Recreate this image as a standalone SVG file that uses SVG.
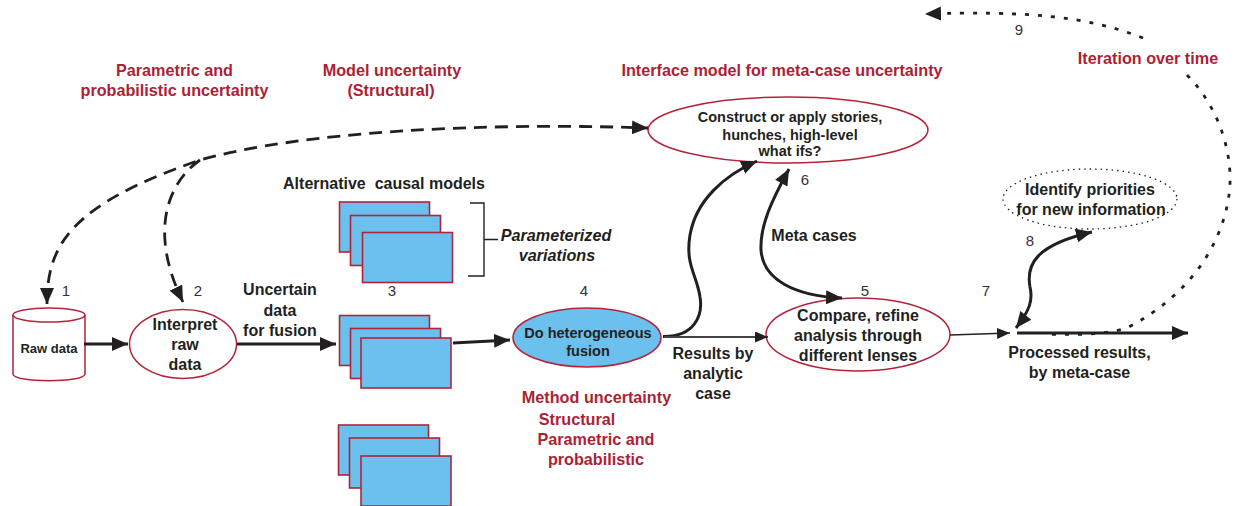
<svg xmlns="http://www.w3.org/2000/svg" width="1235" height="506" viewBox="0 0 1235 506">
<style>
text{font-family:"Liberation Sans",Arial,sans-serif;fill:#231f20;text-anchor:middle}
.b{font-weight:700;font-size:16px}
.s{font-weight:700;font-size:14.500px}
.r{font-weight:700;font-size:16.200px;fill:#ad1f35}
.n{font-size:15px;fill:#333}
.i{font-weight:700;font-style:italic;font-size:16.200px}
.o{fill:#fff;stroke:#b32438;stroke-width:1.500}
.f{fill:#6cc0ee;stroke:#b32438;stroke-width:1.600}
.c{fill:none;stroke:#231f20}
.h{fill:#231f20;stroke:none}
</style>
<defs>
<marker id="a" markerUnits="userSpaceOnUse" markerWidth="18" markerHeight="14" refX="16" refY="7" orient="auto"><path class="h" d="M0 0L16 7L0 14Z"/></marker>
<marker id="as" markerUnits="userSpaceOnUse" markerWidth="14" markerHeight="12" refX="13" refY="5.500" orient="auto"><path class="h" d="M0 0L13 5.500L0 11Z"/></marker>
<marker id="st" markerUnits="userSpaceOnUse" markerWidth="18" markerHeight="14" refX="0" refY="7" orient="auto"><path class="h" d="M16 0L0 7L16 14Z"/></marker>
</defs>

<g id="n1">
<path class="o" d="M13 315V374C13 383 85 383 85 374V315"/>
<ellipse class="o" cx="49" cy="315" rx="36" ry="7"/>
<text x="49" y="353" style="font-weight:700;font-size:13px">Raw data</text>
<text class="n" x="66" y="296">1</text>
</g>

<g id="n2">
<ellipse class="o" cx="183" cy="344" rx="53.500" ry="34.500"/>
<text class="b" x="185" y="330">Interpret</text>
<text class="b" x="185" y="350">raw</text>
<text class="b" x="185" y="370">data</text>
<text class="n" x="198" y="296">2</text>
</g>

<g id="n3a">
<rect class="f" x="339.500" y="202" width="90" height="50"/>
<rect class="f" x="350.500" y="215.500" width="90" height="50"/>
<rect class="f" x="362.500" y="232.500" width="90" height="50"/>
</g>
<g id="n3b">
<rect class="f" x="339.500" y="315.500" width="90" height="50"/>
<rect class="f" x="350.500" y="328.500" width="90" height="50"/>
<rect class="f" x="361" y="338" width="90" height="50"/>
</g>
<g id="n3c">
<rect class="f" x="338.500" y="425" width="90" height="50"/>
<rect class="f" x="349.500" y="438" width="90" height="50"/>
<rect class="f" x="361" y="456" width="90" height="50"/>
</g>

<g id="n4">
<ellipse class="f" cx="587" cy="337.500" rx="74" ry="29.500"/>
<text class="s" x="588" y="338">Do heterogeneous</text>
<text class="s" x="588" y="356">fusion</text>
<text class="n" x="584" y="296">4</text>
</g>

<g id="n6">
<ellipse class="o" cx="788" cy="130" rx="140" ry="33"/>
<text class="s" x="790" y="122">Construct or apply stories,</text>
<text class="s" x="790" y="139.500">hunches, high-level</text>
<text class="s" x="790" y="156">what ifs?</text>
<text class="n" x="805" y="185">6</text>
</g>

<g id="n5">
<ellipse class="o" cx="858" cy="334.500" rx="92" ry="36.500"/>
<text class="b" x="858" y="321">Compare, refine</text>
<text class="b" x="858" y="341">analysis through</text>
<text class="b" x="858" y="361">different lenses</text>
<text class="n" x="865" y="296">5</text>
</g>

<g id="n8">
<ellipse cx="1090" cy="199" rx="87" ry="30" fill="#fff" stroke="#231f20" stroke-width="1.300" stroke-dasharray="1.500 4"/>
<text class="b" x="1090" y="195">Identify priorities</text>
<text class="b" x="1091" y="215">for new information</text>
<text class="n" x="1030" y="246">8</text>
</g>

<g id="connectors">
<path class="c" stroke-width="2.800" stroke-dasharray="13 8" d="M47 304C47 245 70 205 200 160C300 132 480 122 648 128" marker-start="url(#st)" marker-end="url(#a)"/>
<path class="c" stroke-width="2.800" stroke-dasharray="13 8" d="M200 160C165 185 150 235 183 302" marker-end="url(#a)"/>
<path class="c" stroke-width="3" d="M84 344H128" marker-end="url(#a)"/>
<path class="c" stroke-width="3" d="M237 344H336" marker-end="url(#a)"/>
<path class="c" stroke-width="3" d="M453 343L510 340" marker-end="url(#a)"/>
<path class="c" stroke-width="3" d="M663 336.500C695 337 703 315 700 297C697 275 685 265 690 235C696 200 725 175 757 161" marker-end="url(#a)"/>
<path class="c" style="stroke:#444;stroke-width:1.800" d="M664 337H768" marker-end="url(#as)"/>
<path class="c" stroke-width="3" d="M789 169C772 200 760 225 761 250C763 280 795 296 842 298" marker-start="url(#st)" marker-end="url(#a)"/>
<path class="c" stroke-width="1.300" d="M950 335L1010 333" marker-end="url(#as)"/>
<path class="c" stroke-width="3.200" d="M1017 333H1188" marker-end="url(#a)"/>
<path class="c" stroke-width="3" d="M1016 328C1030 310 1033 300 1030 287C1026 265 1035 245 1092 232" marker-end="url(#a)" marker-start="url(#st)"/>
<path class="c" stroke-width="2.800" stroke-dasharray="4 9" d="M1187 75C1222 110 1234 160 1229 195C1222 245 1190 295 1127 328C1105 335 1070 335 1045 334"/>
<path class="c" stroke-width="2.800" stroke-dasharray="4 9" d="M1143 38C1085 15 1020 11 925 14" marker-end="url(#a)"/>
<path class="c" stroke-width="1.400" d="M470 203H484V276H468M484 239.500H498"/>
</g>

<g id="labels">
<text class="r" x="174.500" y="76">Parametric and</text>
<text class="r" x="174.500" y="96">probabilistic uncertainty</text>
<text class="r" x="392" y="76">Model uncertainty</text>
<text class="r" x="391" y="96">(Structural)</text>
<text class="r" x="782" y="76">Interface model for meta-case uncertainty</text>
<text class="r" x="1148" y="64">Iteration over time</text>
<text class="n" x="1019" y="35">9</text>
<text class="b" x="384" y="189" xml:space="preserve">Alternative  causal models</text>
<text class="i" x="556" y="241">Parameterized</text>
<text class="i" x="557" y="261">variations</text>
<text class="n" x="392" y="296">3</text>
<text class="b" x="280" y="295">Uncertain</text>
<text class="b" x="280" y="316">data</text>
<text class="b" x="280" y="336">for fusion</text>
<text class="b" x="814" y="241">Meta cases</text>
<text class="b" x="713" y="359">Results by</text>
<text class="b" x="713" y="379">analytic</text>
<text class="b" x="713" y="399">case</text>
<text class="r" x="596.500" y="403">Method uncertainty</text>
<text class="r" x="577" y="425">Structural</text>
<text class="r" x="596" y="445">Parametric and</text>
<text class="r" x="596" y="465">probabilistic</text>
<text class="n" x="986" y="296">7</text>
<text class="b" x="1079.500" y="358">Processed results,</text>
<text class="b" x="1079.500" y="378">by meta-case</text>
</g>
</svg>
